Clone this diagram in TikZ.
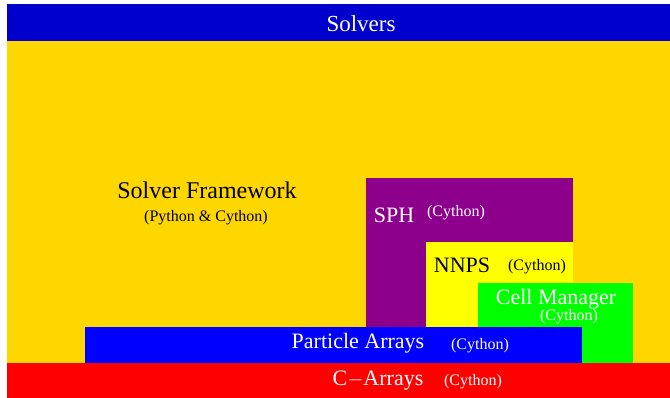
\documentclass[tikz,border=0pt]{standalone}
\usepackage{fontspec}
\setmainfont{Liberation Serif}

\definecolor{solverblue}{RGB}{0,0,205}
\definecolor{frameworkgold}{RGB}{255,215,0}
\definecolor{sphpurple}{RGB}{140,0,140}
\definecolor{nnpsyellow}{RGB}{255,255,0}
\definecolor{cellgreen}{RGB}{0,255,0}
\definecolor{arrayblue}{RGB}{0,0,255}
\definecolor{carrayred}{RGB}{255,0,0}

\begin{document}
\begin{tikzpicture}[x=1pt, y=-1pt,
        layer/.style={inner sep=0pt, font=\fontsize{22}{24}\selectfont},
        sublayer/.style={inner sep=0pt, font=\fontsize{16}{18}\selectfont}]
    \useasboundingbox (0,0) rectangle (670,398);

    % layers, back to front
    \fill[solverblue] (7,4) rectangle (670,41);
    \fill[frameworkgold] (7,41) rectangle (670,363);
    \fill[sphpurple] (366,178) rectangle (573,327);
    \fill[nnpsyellow] (426,242) rectangle (573,327);
    \fill[cellgreen] (478,283) rectangle (633,363);
    \fill[arrayblue] (85,327) rectangle (582,363);
    \fill[carrayred] (7,363) rectangle (670,398);

    % labels
    \node[layer, white, font=\fontsize{23}{25}\selectfont] (solvers) at (361,24) {Solvers};

    \node[layer, font=\fontsize{24}{26}\selectfont] (framework) at (207,190) {Solver Framework};
    \node[sublayer] (frameworklang) at (206,218) {(Python \& Cython)};

    \node[layer, white] (sph) at (394,215) {SPH};
    \node[sublayer, white] (sphlang) at (456,213) {(Cython)};

    \node[layer] (nnps) at (462,265) {NNPS};
    \node[sublayer] (nnpslang) at (537,267) {(Cython)};

    \node[layer, white] (cellmgr) at (556,299) {Cell Manager};
    \node[sublayer, white] (cellmgrlang) at (569,317) {(Cython)};

    \node[layer, white] (parrays) at (358,343) {Particle Arrays};
    \node[sublayer, white] (parrayslang) at (480,346) {(Cython)};

    \node[layer, white] (carrays) at (378,381) {C$-$Arrays};
    \node[sublayer, white] (carrayslang) at (473,382) {(Cython)};
\end{tikzpicture}
\end{document}
